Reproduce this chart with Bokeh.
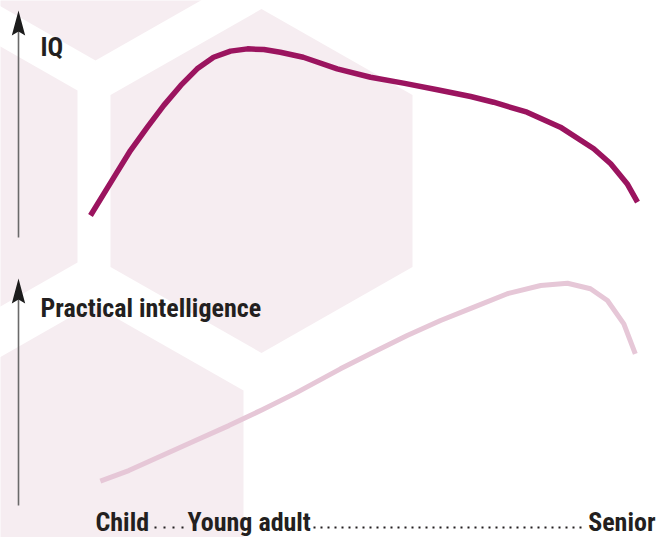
from bokeh.plotting import figure
from bokeh.models import Range1d, ColumnDataSource
from bokeh.core.properties import value
from bokeh.embed import file_html
from bokeh.resources import INLINE

# ---------------- data ----------------
life_stages = ["Child", "Young adult", "Senior"]
axis_titles = ["IQ", "Practical intelligence"]

# life course position (0 = childhood, 100 = old age) and relative level (0-100)
iq_x = [0.0, 4.3, 7.3, 10.4, 13.4, 16.5, 19.5, 22.5, 25.6, 28.7, 31.7, 34.7, 38.9,
        45.1, 51.2, 57.2, 63.4, 69.5, 73.7, 79.8, 85.9, 92.0, 95.1, 98.1, 100.0]
iq_level = [9.7, 26.6, 38.3, 48.6, 58.2, 67.0, 74.3, 79.4, 82.1, 83.1, 82.8, 81.6, 79.4,
            74.3, 70.6, 68.0, 65.1, 62.1, 59.6, 55.2, 48.6, 39.1, 32.5, 23.7, 15.6]

practical_x = [1.8, 7.0, 13.1, 19.2, 25.3, 31.4, 37.5, 45.7, 51.7, 57.9, 64.0, 70.1,
               76.2, 82.3, 87.2, 91.4, 94.5, 97.5, 99.6]
practical_level = [10.7, 15.4, 22.0, 28.6, 35.2, 42.2, 49.5, 60.2, 67.5, 74.9, 81.5, 87.4,
                   93.3, 96.9, 97.9, 95.5, 90.3, 80.0, 66.8]

# ---------------- layout (reference pixel space) ----------------
REF_W, REF_H = 657, 537
W, H = 657, 537
LIFE_X0, LIFE_X1 = 90.0, 637.0          # px of life 0 and life 100
IQ_BASE, PR_BASE = 237.0, 505.0         # px of level 0
PX_PER_LEVEL = 2.27
ARROW_X = 18.0
HEAD_LEN, HEAD_HALF, NOTCH = 25.0, 6.7, 4.0

PINK = "#f6edf1"
IQ_COLOR = "#9b145f"
PR_COLOR = "#e6c7d7"
TEXT_COLOR = "#231f20"
FONT = value("'Roboto Condensed', Roboto, sans-serif")
FSIZE = "26px"

p = figure(width=W, height=H, x_range=Range1d(0, REF_W), y_range=Range1d(REF_H, 0),
           output_backend="svg", toolbar_location=None, min_border=0,
           x_axis_location=None, y_axis_location=None)
p.grid.visible = False
p.outline_line_color = None
p.background_fill_color = "white"

life_per_px = 100.0 / (LIFE_X1 - LIFE_X0)
p.extra_x_ranges = {"life": Range1d((0 - LIFE_X0) * life_per_px, (REF_W - LIFE_X0) * life_per_px)}
p.extra_y_ranges = {
    "iq": Range1d((IQ_BASE - REF_H) / PX_PER_LEVEL, IQ_BASE / PX_PER_LEVEL),
    "prac": Range1d((PR_BASE - REF_H) / PX_PER_LEVEL, PR_BASE / PX_PER_LEVEL),
}

# ---------------- background hexagons ----------------
hex_centers = [(261, 180.5), (-74, 176), (95, -112), (92, 476)]
HW, HC, HR = 151, 86, 172
hx, hy = [], []
for cx, cy in hex_centers:
    hx.append([cx, cx + HW, cx + HW, cx, cx - HW, cx - HW])
    hy.append([cy - HR, cy - HC, cy + HC, cy + HR, cy + HC, cy - HC])
p.patches(hx, hy, fill_color=PINK, line_color=None)

# ---------------- axis arrows ----------------
tips = [10.0, 278.0]
bases = [IQ_BASE, PR_BASE]
p.segment(x0=[ARROW_X] * 2, y0=bases, x1=[ARROW_X] * 2, y1=[t + 10 for t in tips],
          line_color="#6a6a6a", line_width=1.6)
ax, ay = [], []
for t in tips:
    ax.append([ARROW_X, ARROW_X + HEAD_HALF, ARROW_X, ARROW_X - HEAD_HALF])
    ay.append([t, t + HEAD_LEN, t + HEAD_LEN - NOTCH, t + HEAD_LEN])
p.patches(ax, ay, fill_color="#1c1c1c", line_color=None)

# ---------------- curves ----------------
p.line(x=iq_x, y=iq_level, x_range_name="life", y_range_name="iq",
       line_color=IQ_COLOR, line_width=5.5, line_join="round")
p.line(x=practical_x, y=practical_level, x_range_name="life", y_range_name="prac",
       line_color=PR_COLOR, line_width=5, line_join="round")

# ---------------- texts ----------------
TEXT_SHIFT = 8  # svg backend draws alphabetic baseline slightly low
BOTTOM_Y = 529
p.text(x=[40, 40], y=[54 - TEXT_SHIFT, 315 - TEXT_SHIFT], text=axis_titles, text_font=FONT,
       text_font_style="bold", text_font_size=FSIZE, text_color=TEXT_COLOR,
       text_baseline="alphabetic", text_align="left")

src = ColumnDataSource(dict(x=[95, 187, 655], y=[BOTTOM_Y - TEXT_SHIFT] * 3, t=life_stages,
                            a=["left", "left", "right"]))
p.text(x="x", y="y", text="t", text_align="a", source=src, text_font=FONT,
       text_font_style="bold", text_font_size=FSIZE, text_color=TEXT_COLOR,
       text_baseline="alphabetic")

# dotted leaders between stage labels
p.segment(x0=[154], y0=[BOTTOM_Y - 2], x1=[184], y1=[BOTTOM_Y - 2],
          line_color=TEXT_COLOR, line_width=2, line_dash="2 7")
p.segment(x0=[313], y0=[BOTTOM_Y - 2], x1=[583], y1=[BOTTOM_Y - 2],
          line_color=TEXT_COLOR, line_width=2, line_dash="2 5")

open("out.html", "w").write(file_html(p, INLINE))
